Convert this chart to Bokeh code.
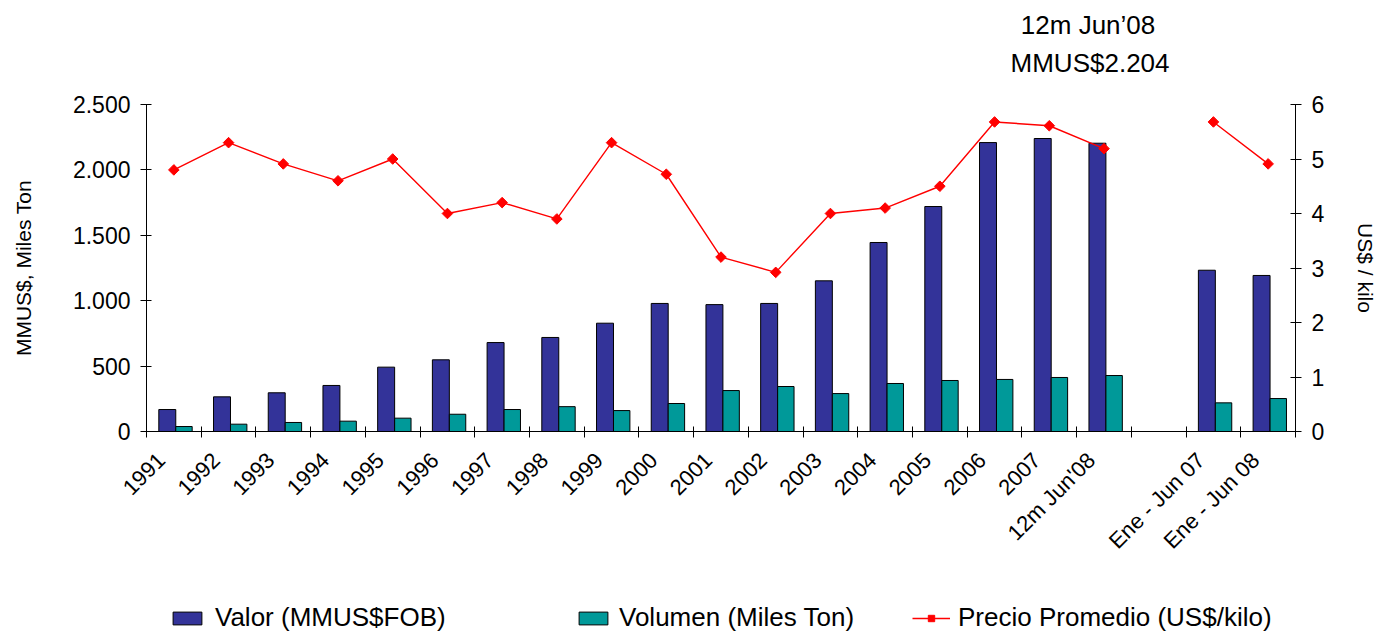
from bokeh.plotting import figure
from bokeh.models import (Range1d, LinearAxis, FixedTicker, CustomJSTickFormatter,
                          Legend, LegendItem, Label)
from bokeh.layouts import column
from bokeh.embed import file_html
from bokeh.resources import INLINE
import math

categories = ["1991", "1992", "1993", "1994", "1995", "1996", "1997", "1998", "1999",
              "2000", "2001", "2002", "2003", "2004", "2005", "2006", "2007",
              "12m Jun'08", "", "Ene - Jun 07", "Ene - Jun 08"]
valor = [168, 265, 296, 352, 492, 548, 680, 719, 828, 979, 970, 979, 1152, 1445,
         1720, 2209, 2240, 2204, None, 1233, 1193]
volumen = [38, 56, 69, 79, 102, 132, 168, 190, 160, 214, 313, 344, 290, 367,
           390, 398, 413, 428, None, 219, 252]
precio = [4.80, 5.30, 4.91, 4.60, 5.00, 4.00, 4.20, 3.90, 5.30, 4.72, 3.20, 2.92,
          4.00, 4.10, 4.50, 5.68, 5.61, 5.19, None, 5.68, 4.91]
left_ticks = [0, 500, 1000, 1500, 2000, 2500]
right_ticks = [0, 1, 2, 3, 4, 5, 6]
note_lines = ["12m Jun\u201908", "MMUS$2.204"]

FONT = "Liberation Sans"
BLUE = "#333399"
TEAL = "#009999"
RED = "#FF0000"
n = len(categories)
idx = list(range(n))
centers = [i + 0.5 for i in idx]
label_pos = [i + 0.27 for i in idx]
bounds = list(range(n + 1))

def clean(v):
    return [float("nan") if x is None else x for x in v]

W = 1380
H0 = 90    # note strip
H1 = 490   # main chart
H2 = 53    # legend strip
FL = 146   # frame left (page px)
FR = 1298  # frame right (page px)
FW = FR - FL

def strip(h):
    s = figure(width=W, height=h, output_backend="svg", toolbar_location=None,
               x_range=Range1d(0, FW), y_range=Range1d(0, h),
               x_axis_type=None, y_axis_type=None,
               min_border_left=0, min_border_right=0, min_border_top=0, min_border_bottom=0)
    s.outline_line_color = None
    s.xgrid.grid_line_color = None
    s.ygrid.grid_line_color = None
    return s

# ---- note strip on top
t = strip(H0)
t.add_layout(Label(x=1090 - FL, y=H0 - 24, text=note_lines[0], text_align="center",
                   text_baseline="middle", text_font=FONT, text_font_size="26px",
                   text_color="black"))
t.add_layout(Label(x=1092 - FL, y=H0 - 62, text=note_lines[1], text_align="center",
                   text_baseline="middle", text_font=FONT, text_font_size="26px",
                   text_color="black"))

# ---- main chart
p = figure(width=W, height=H1, output_backend="svg", toolbar_location=None,
           x_range=Range1d(0, n), y_range=Range1d(0, 2500),
           min_border_left=FL, min_border_right=W - FR, min_border_top=104 - H0,
           min_border_bottom=H0 + H1 - 431)
p.outline_line_color = None
p.xgrid.grid_line_color = None
p.ygrid.grid_line_color = None

vx = [i + 0.38 for i in idx]
tx = [i + 0.685 for i in idx]
p.vbar(x=vx, top=clean(valor), bottom=0, width=0.31, fill_color=BLUE,
       line_color="black", line_width=1)
p.vbar(x=tx, top=clean(volumen), bottom=0, width=0.30, fill_color=TEAL,
       line_color="black", line_width=1)

p.extra_y_ranges = {"price": Range1d(0, 6)}
p.line(x=centers, y=clean(precio), y_range_name="price", line_color=RED,
       line_width=1.4)
p.scatter(x=centers, y=clean(precio), y_range_name="price", marker="square",
          angle=math.pi / 4, size=7.5, fill_color=RED, line_color=RED)

# x axis: visible ticks between categories (minor), labels from hidden major ticks
xa = p.xaxis[0]
xa.ticker = FixedTicker(ticks=label_pos, minor_ticks=bounds)
xa.formatter = CustomJSTickFormatter(args=dict(labels=categories),
                                     code="const i = Math.floor(tick); return (i >= 0 && i < labels.length) ? labels[i] : '';")
xa.major_tick_line_color = None
xa.minor_tick_line_color = "black"
xa.minor_tick_in = 5
xa.minor_tick_out = 6
xa.axis_line_color = "black"
xa.major_label_orientation = math.pi / 4
xa.major_label_text_font = FONT
xa.major_label_text_font_size = "22px"
xa.major_label_text_color = "black"
xa.major_label_standoff = 19

# left axis
ya = p.yaxis[0]
ya.ticker = FixedTicker(ticks=left_ticks)
ya.formatter = CustomJSTickFormatter(code="return tick.toFixed(0).replace(/\\B(?=(\\d{3})+(?!\\d))/g, '.');")
ya.minor_tick_line_color = None
ya.major_tick_in = 5
ya.major_tick_out = 6
ya.major_label_text_font = FONT
ya.major_label_text_font_size = "23px"
ya.major_label_text_color = "black"
ya.major_label_standoff = 10
ya.axis_label = "MMUS$, Miles Ton"
ya.axis_label_text_font = FONT
ya.axis_label_text_font_size = "21px"
ya.axis_label_text_font_style = "normal"
ya.axis_label_text_color = "black"
ya.axis_label_standoff = 35

# right axis
ra = LinearAxis(y_range_name="price", ticker=FixedTicker(ticks=right_ticks))
ra.minor_tick_line_color = None
ra.major_tick_in = 5
ra.major_tick_out = 6
ra.major_label_text_font = FONT
ra.major_label_text_font_size = "23px"
ra.major_label_text_color = "black"
ra.major_label_standoff = 10
ra.axis_label = "US$ / kilo"
ra.axis_label_text_font = FONT
ra.axis_label_text_font_size = "21px"
ra.axis_label_text_font_style = "normal"
ra.axis_label_text_color = "black"
ra.axis_label_standoff = 27
p.add_layout(ra, "right")

# ---- legend strip
q = strip(H2)
# legend-only swatches, kept far outside the visible area
g1 = q.vbar(x=[-5000], top=[-4999], bottom=[-5000], width=1, fill_color=BLUE,
            line_color="black", line_width=1)
g2 = q.vbar(x=[-5000], top=[-4999], bottom=[-5000], width=1, fill_color=TEAL,
            line_color="black", line_width=1)
g3 = q.line(x=[-5000, -4999], y=[-5000, -5000], line_color=RED, line_width=1.4)
g4 = q.scatter(x=[-5000], y=[-5000], marker="square", angle=math.pi / 4, size=6,
               fill_color=RED, line_color=RED)

def mk_legend(label, renderers, xpage, gw, gh, standoff):
    lg = Legend(items=[LegendItem(label=label, renderers=renderers)],
                location=(xpage - FL, 0), orientation="horizontal", padding=0, margin=0,
                border_line_color=None, background_fill_alpha=0,
                glyph_width=gw, glyph_height=gh, label_standoff=standoff,
                label_height=26,
                label_text_font=FONT, label_text_font_size="26px",
                label_text_color="black", spacing=0)
    q.add_layout(lg, "center")

mk_legend("Valor (MMUS$FOB)", [g1], 169, 36, 16, 10)
mk_legend("Volumen (Miles Ton)", [g2], 575, 36, 16, 8)
mk_legend("Precio Promedio (US$/kilo)", [g3, g4], 912, 38, 16, 8)

open("out.html", "w").write(file_html(column(t, p, q, spacing=0), INLINE))
